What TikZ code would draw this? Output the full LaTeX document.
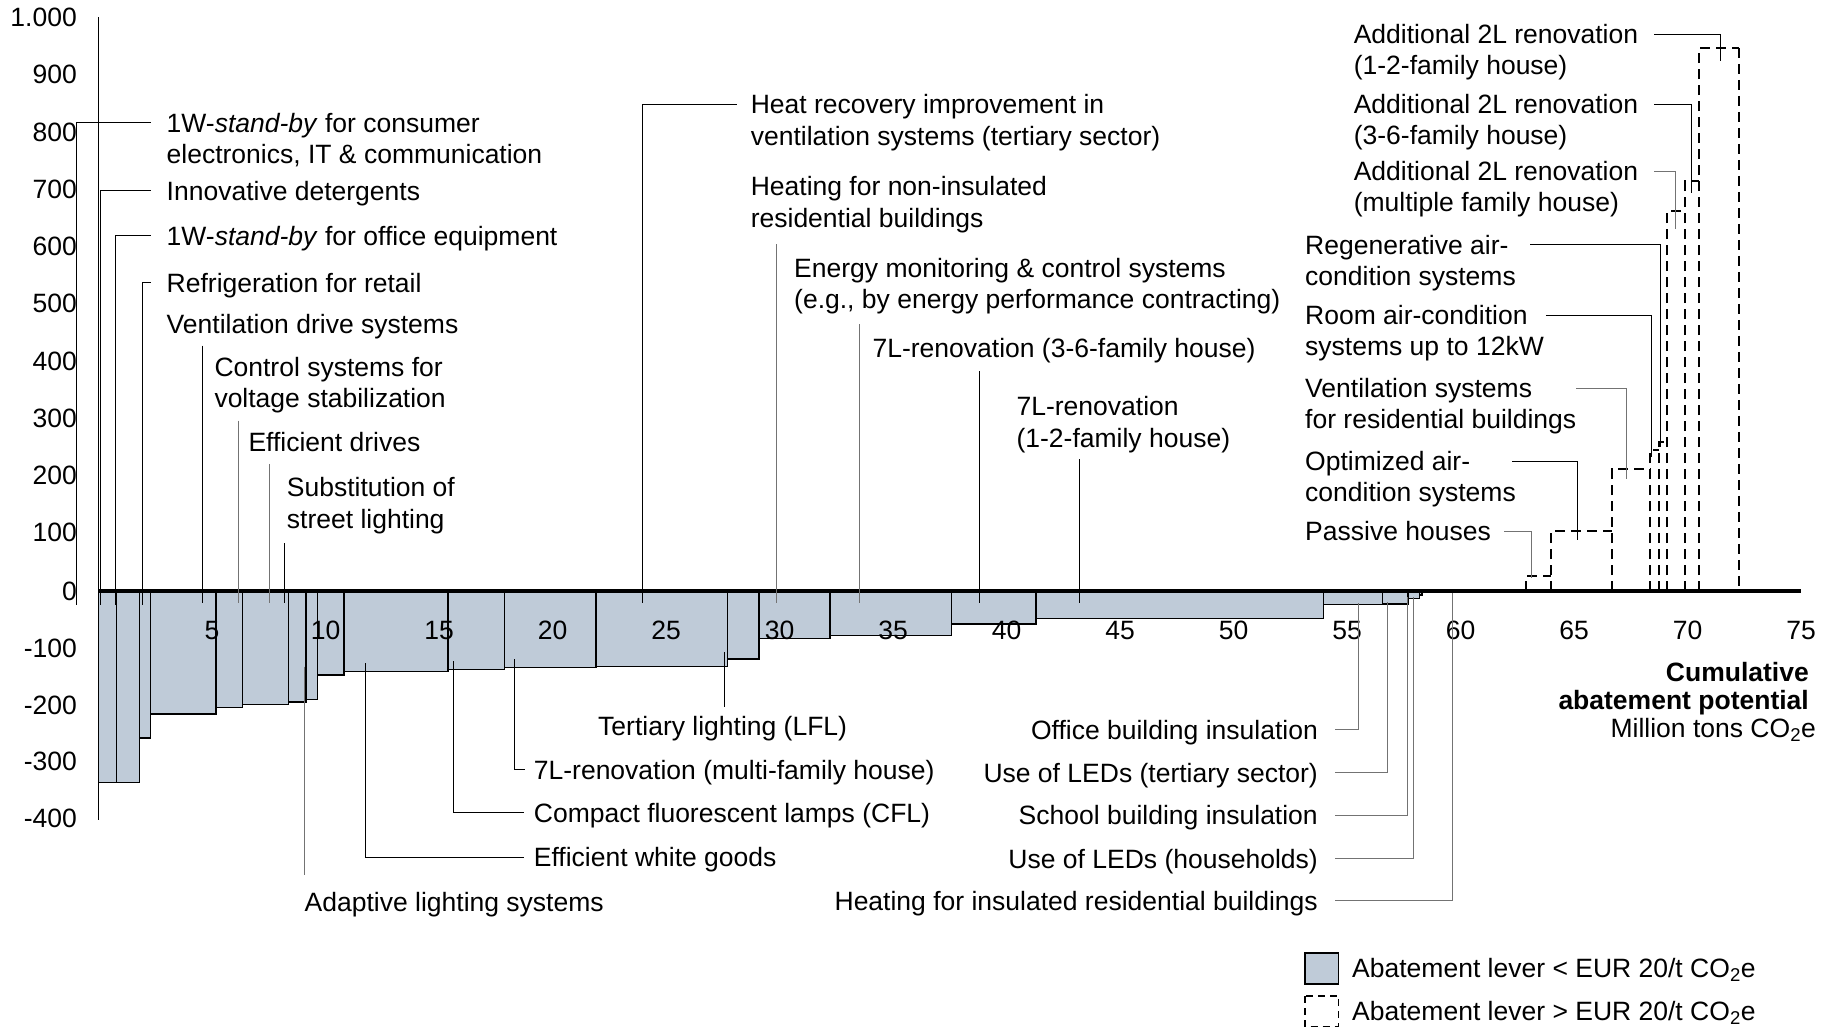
\documentclass[tikz,border=0pt]{standalone}
\usepackage{fontspec}
\setmainfont{Liberation Sans}
\usetikzlibrary{calc}

\definecolor{leverfill}{RGB}{191,203,216}
\definecolor{leadgray}{RGB}{115,115,115}
\newcommand{\lfont}{\fontsize{26.5}{31}\selectfont}

\tikzset{
  lbl/.style={font=\lfont, inner sep=0pt, text height=25pt, text depth=6pt, anchor=west},
  lever/.style={draw=black, line width=1.3pt, fill=leverfill},
  leverdash/.style={draw=black, line width=2pt, dash pattern=on 10pt off 6pt},
  leader/.style={draw=black, line width=1pt},
  leaderg/.style={draw=leadgray, line width=1pt},
}

\begin{document}
\begin{tikzpicture}[x=1pt, y=-1pt]
  \useasboundingbox (0,0) rectangle (1836,1028);
  % bars in data units: cumulative potential / EUR per t
  \begin{scope}[shift={(98.5,591)}, x=22.7pt, y=0.567pt]
    \foreach \a/\b/\v in {0/0.80/-338, 0.80/1.81/-338, 1.81/2.30/-259, 2.30/5.18/-217,
        5.18/6.33/-205, 6.33/8.36/-200, 8.36/9.14/-196, 9.14/9.64/-191, 9.64/10.81/-148,
        10.81/15.39/-142, 15.39/17.87/-138, 17.87/21.91/-135, 21.91/27.71/-133,
        27.71/29.10/-120, 29.10/32.23/-84, 32.23/37.59/-78, 37.59/41.30/-58,
        41.30/53.96/-48, 53.96/56.56/-23.5, 56.56/57.69/-23, 57.69/58.19/-13, 58.19/58.30/-7}
      \draw[lever] (\a,0) rectangle (\b,\v);
    % levers above EUR 20/t (left edge and top, next bar closes the step)
    \foreach \a/\b/\v in {62.89/63.97/26, 63.97/66.68/105, 66.68/68.36/215, 68.36/68.74/249,
        68.74/69.11/262, 69.11/69.90/670, 69.90/70.52/723, 70.52/72.25/958}
      \draw[leverdash] (\a,0) -- (\a,\v) -- (\b,\v);
    \draw[leverdash] (72.25,958) -- (72.25,0);
    % axes
    \draw[line width=1pt] (0,1012) -- (0,-404);
    \draw[line width=4.7pt] (0,0) -- (75,0);
    \foreach \t in {5,10,...,75}
      \node[font=\lfont] at (\t,-68.8) {\t};
  \end{scope}
  \foreach \lab/\y in {1.000/17.6, 900/74.8, 800/132, 700/189.3, 600/246.6, 500/303.8,
      400/361, 300/418.3, 200/475.5, 100/532.8, 0/591, -100/648.3, -200/705,
      -300/761.7, -400/818.4}
    \node[font=\lfont, anchor=east, inner sep=0pt] at (77,\y) {\lab};

  % labels, top left
  \node[lbl] (cons) at (166.5,122.5) {1W-\textit{stand-by} for consumer};
  \node[lbl, anchor=north west] (cons2) at (cons.south west) {electronics, IT \& communication};
  \node[lbl] (deter) at (166.5,190.5) {Innovative detergents};
  \node[lbl] (office) at (166.5,235.5) {1W-\textit{stand-by} for office equipment};
  \node[lbl] (retail) at (166.5,282.8) {Refrigeration for retail};
  \node[lbl] (ventdrive) at (166.5,323.8) {Ventilation drive systems};
  \node[lbl] (voltage) at (214.3,366.5) {Control systems for};
  \node[lbl, anchor=north west] (voltage2) at (voltage.south west) {voltage stabilization};
  \node[lbl] (drives) at (248.3,442.2) {Efficient drives};
  \node[lbl] (street) at (286.7,487.2) {Substitution of};
  \node[lbl, anchor=north west] (street2) at (street.south west) {street lighting};

  % labels, top middle
  \node[lbl] (heatrec) at (750.6,104.2) {Heat recovery improvement in};
  \node[lbl, anchor=north west] (heatrec2) at (heatrec.south west) {ventilation systems (tertiary sector)};
  \node[lbl] (noninsul) at (750.6,186.2) {Heating for non-insulated};
  \node[lbl, anchor=north west] (noninsul2) at (noninsul.south west) {residential buildings};
  \node[lbl] (monitor) at (794,268) {Energy monitoring \& control systems};
  \node[lbl, anchor=north west] (monitor2) at (monitor.south west) {(e.g., by energy performance contracting)};
  \node[lbl] (reno36) at (872.4,347.5) {7L-renovation (3-6-family house)};
  \node[lbl] (reno12) at (1016.4,406.3) {7L-renovation};
  \node[lbl, anchor=north west] (reno122) at (reno12.south west) {(1-2-family house)};

  % labels, bottom
  \node[lbl] (tertiary) at (598,725.5) {Tertiary lighting (LFL)};
  \node[lbl] (renomf) at (533.7,769.8) {7L-renovation (multi-family house)};
  \node[lbl] (cfl) at (533.7,812.8) {Compact fluorescent lamps (CFL)};
  \node[lbl] (white) at (533.7,857.2) {Efficient white goods};
  \node[lbl] (adaptive) at (304.5,902.2) {Adaptive lighting systems};
  \node[lbl, anchor=east] (officeins) at (1318,729.8) {Office building insulation};
  \node[lbl, anchor=east] (ledtert) at (1318,772.8) {Use of LEDs (tertiary sector)};
  \node[lbl, anchor=east] (schoolins) at (1318,815) {School building insulation};
  \node[lbl, anchor=east] (ledhouse) at (1318,858.5) {Use of LEDs (households)};
  \node[lbl, anchor=east] (heatins) at (1318,900.5) {Heating for insulated residential buildings};

  % labels, right
  \node[lbl] (add12) at (1353.6,34) {Additional 2L renovation};
  \node[lbl, anchor=north west] (add122) at (add12.south west) {(1-2-family house)};
  \node[lbl] (add36) at (1353.6,104) {Additional 2L renovation};
  \node[lbl, anchor=north west] (add362) at (add36.south west) {(3-6-family house)};
  \node[lbl] (addmf) at (1353.6,171) {Additional 2L renovation};
  \node[lbl, anchor=north west] (addmf2) at (addmf.south west) {(multiple family house)};
  \node[lbl] (regen) at (1305,244.5) {Regenerative air-};
  \node[lbl, anchor=north west] (regen2) at (regen.south west) {condition systems};
  \node[lbl] (roomac) at (1305,315) {Room air-condition};
  \node[lbl, anchor=north west] (roomac2) at (roomac.south west) {systems up to 12kW};
  \node[lbl] (ventres) at (1305,388) {Ventilation systems};
  \node[lbl, anchor=north west] (ventres2) at (ventres.south west) {for residential buildings};
  \node[lbl] (optac) at (1305,461) {Optimized air-};
  \node[lbl, anchor=north west] (optac2) at (optac.south west) {condition systems};
  \node[lbl] (passive) at (1305,531) {Passive houses};

  % leader ends in the bars
  \coordinate (consE) at (76,605);
  \coordinate (deterE) at (100,605);
  \coordinate (officeE) at (115.5,605);
  \coordinate (retailE) at (142.5,605);
  \coordinate (ventdriveE) at (202.7,603);
  \coordinate (voltageE) at (238,603);
  \coordinate (drivesE) at (269,603);
  \coordinate (streetE) at (284.3,603);
  \coordinate (heatrecE) at (642.5,602.7);
  \coordinate (noninsulE) at (776.2,602.7);
  \coordinate (monitorE) at (859.2,602.7);
  \coordinate (reno36E) at (979.8,602.7);
  \coordinate (reno12E) at (1079.3,602.7);
  \coordinate (adaptiveE) at (304.5,666.7);
  \coordinate (whiteE) at (365,663.3);
  \coordinate (cflE) at (453.5,661);
  \coordinate (renomfE) at (514.7,659.3);
  \coordinate (tertiaryE) at (724.5,652.3);
  \coordinate (officeinsE) at (1358.5,602.7);
  \coordinate (ledtertE) at (1387.5,601.7);
  \coordinate (schoolinsE) at (1407.5,597);
  \coordinate (ledhouseE) at (1413.5,596.7);
  \coordinate (heatinsE) at (1452,593);
  \coordinate (add12E) at (1720.7,61);
  \coordinate (add36E) at (1691.7,193.3);
  \coordinate (addmfE) at (1675.7,229.3);
  \coordinate (regenE) at (1660,447.3);
  \coordinate (roomacE) at (1651,456.7);
  \coordinate (ventresE) at (1626.7,479.3);
  \coordinate (optacE) at (1577.7,540);
  \coordinate (passiveE) at (1531,578);

  % leaders
  \draw[leader] ([xshift=-16pt]cons.west) -| (consE);
  \draw[leader] ([xshift=-16pt]deter.west) -| (deterE);
  \draw[leader] ([xshift=-16pt]office.west) -| (officeE);
  \draw[leader] ([xshift=-16pt]retail.west) -| (retailE);
  \draw[leader] ([yshift=-6pt]ventdrive.south -| ventdriveE) -- (ventdriveE);
  \draw[leaderg] ([yshift=-7pt]voltage2.south -| voltageE) -- (voltageE);
  \draw[leaderg] ([yshift=-6pt]drives.south -| drivesE) -- (drivesE);
  \draw[leader] ([yshift=-9pt]street2.south -| streetE) -- (streetE);
  \draw[leader] ([xshift=-14pt]heatrec.west) -| (heatrecE);
  \draw[leaderg] ([yshift=-11pt]noninsul2.south -| noninsulE) -- (noninsulE);
  \draw[leaderg] ([yshift=-9pt]monitor2.south -| monitorE) -- (monitorE);
  \draw[leader] ([yshift=-8pt]reno36.south -| reno36E) -- (reno36E);
  \draw[leader] ([yshift=-6pt]reno122.south -| reno12E) -- (reno12E);
  \draw[leaderg] (adaptiveE) -- ([yshift=12pt]adaptive.north -| adaptiveE);
  \draw[leader] (whiteE) |- ([xshift=-10pt]white.west);
  \draw[leader] (cflE) |- ([xshift=-10pt]cfl.west);
  \draw[leader] (renomfE) |- ([xshift=-9pt]renomf.west);
  \draw[leader] (tertiaryE) -- ([yshift=3pt]tertiary.north -| tertiaryE);
  \draw[leaderg] ([xshift=17pt]officeins.east) -| (officeinsE);
  \draw[leaderg] ([xshift=17pt]ledtert.east) -| (ledtertE);
  \draw[leaderg] ([xshift=17pt]schoolins.east) -| (schoolinsE);
  \draw[leaderg] ([xshift=17pt]ledhouse.east) -| (ledhouseE);
  \draw[leaderg] ([xshift=17pt]heatins.east) -| (heatinsE);
  \draw[leader] ([xshift=16pt]add12.east) -| (add12E);
  \draw[leader] ([xshift=16pt]add36.east) -| (add36E);
  \draw[leaderg] ([xshift=16pt]addmf.east) -| (addmfE);
  \draw[leader] ([xshift=21.6pt]regen.east) -| (regenE);
  \draw[leader] ([xshift=18pt]roomac.east) -| (roomacE);
  \draw[leaderg] ([xshift=44pt]ventres.east) -| (ventresE);
  \draw[leader] ([xshift=42pt]optac.east) -| (optacE);
  \draw[leaderg] ([xshift=13.4pt]passive.east) -| (passiveE);

  % axis title
  \node[lbl, anchor=east, font=\lfont\bfseries] (cumtitle) at (1809,671.5) {Cumulative};
  \node[lbl, anchor=east, font=\lfont\bfseries] (cumtitle2) at (1809,699.5) {abatement potential};
  \node[lbl, anchor=east] (cumunit) at (1816,727.5) {Million tons CO\textsubscript{2}e};

  % legend
  \draw[lever] (1305,953) rectangle (1338.5,984);
  \node[lbl] (legsolid) at (1352,968) {Abatement lever < EUR 20/t CO\textsubscript{2}e};
  \draw[leverdash, line width=1.5pt, dash pattern=on 7pt off 5pt] (1305,996) rectangle (1338.5,1026.3);
  \node[lbl] (legdash) at (1352,1010.5) {Abatement lever > EUR 20/t CO\textsubscript{2}e};
\end{tikzpicture}
\end{document}
